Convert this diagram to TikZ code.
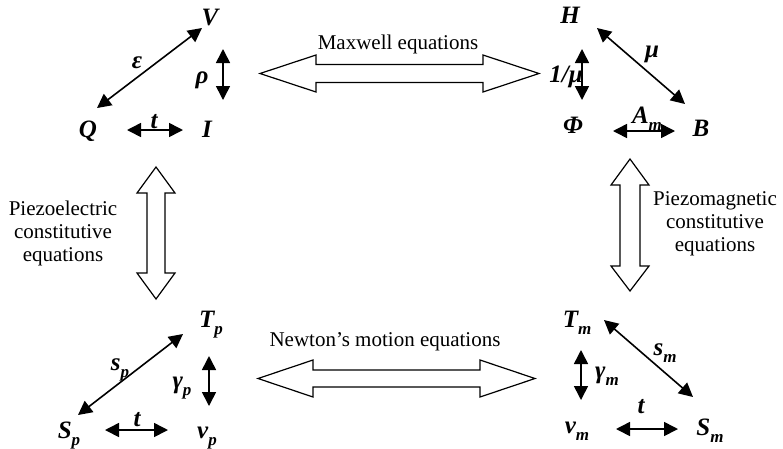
\documentclass[tikz,border=0pt]{standalone}
\usepackage{fontspec}
\setmainfont{Liberation Serif}
\usetikzlibrary{arrows.meta}
\newcommand{\lsub}[1]{\raisebox{-0.3em}{\fontsize{17}{18}\selectfont #1}}
\tikzset{
  var/.style={font=\fontsize{25}{27}\selectfont\bfseries\itshape, anchor=base, inner sep=0pt},
  lbl/.style={font=\fontsize{21}{24}\selectfont, anchor=base, inner sep=0pt, align=center},
  dar/.style={line width=1.6pt, {Triangle[length=14pt,width=14pt]}-{Triangle[length=14pt,width=14pt]}},
  blk/.style={line width=1.2pt, fill=white, line join=miter}
}
\begin{document}
\begin{tikzpicture}[x=1pt,y=-1pt]
\useasboundingbox (0,0) rectangle (783,448);
% ---------- top-left group
\node[var] (V) at (210,25) {V};
\node[var] (Q) at (88,137) {Q};
\node[var] (I) at (207,137) {I};
\node[var] (eps) at (137,68) {ε};
\node[var] (rho) at (202,83) {ρ};
\node[var] (t1) at (154,128) {t};
\coordinate (a1) at (97,108); \coordinate (a2) at (202,28);
\coordinate (a3) at (223,49);  \coordinate (a4) at (223,100);
\coordinate (a5) at (127,130); \coordinate (a6) at (183,130);
\draw[dar] (a1) -- (a2);
\draw[dar] (a3) -- (a4);
\draw[dar] (a5) -- (a6);
% ---------- top-right group
\node[var] (H) at (570,23) {H};
\node[var] (Phi) at (573,133) {Φ};
\node[var] (B) at (701,136) {B};
\node[var] (mu) at (652,57) {μ};
\node[var] (imu) at (566,82) {1/μ};
\node[var] (Am) at (647,123) {A\lsub{m}};
\coordinate (b1) at (582,49);  \coordinate (b2) at (582,100);
\coordinate (b3) at (597,28);  \coordinate (b4) at (685,104);
\coordinate (b5) at (613,131); \coordinate (b6) at (675,131);
\draw[dar] (b1) -- (b2);
\draw[dar] (b3) -- (b4);
\draw[dar] (b5) -- (b6);
% ---------- bottom-left group
\node[var] (Tp) at (211,327) {T\lsub{p}};
\node[var] (Sp) at (69,438) {S\lsub{p}};
\node[var] (vp) at (207,438) {v\lsub{p}};
\node[var] (sp) at (120,370) {s\lsub{p}};
\node[var] (gp) at (182,388) {γ\lsub{p}};
\node[var] (t3) at (137,426) {t};
\coordinate (c1) at (78,415);  \coordinate (c2) at (183,334);
\coordinate (c3) at (209,356); \coordinate (c4) at (209,406);
\coordinate (c5) at (105,430); \coordinate (c6) at (168,430);
\draw[dar] (c1) -- (c2);
\draw[dar] (c3) -- (c4);
\draw[dar] (c5) -- (c6);
% ---------- bottom-right group
\node[var] (Tm) at (577,327) {T\lsub{m}};
\node[var] (vm) at (577,433) {v\lsub{m}};
\node[var] (Sm) at (710,435) {S\lsub{m}};
\node[var] (sm) at (665,355) {s\lsub{m}};
\node[var] (gm) at (607,378) {γ\lsub{m}};
\node[var] (t4) at (641,413) {t};
\coordinate (d1) at (604,320); \coordinate (d2) at (693,397);
\coordinate (d3) at (581,350); \coordinate (d4) at (581,400);
\coordinate (d5) at (616,429); \coordinate (d6) at (678,429);
\draw[dar] (d1) -- (d2);
\draw[dar] (d3) -- (d4);
\draw[dar] (d5) -- (d6);
% ---------- block arrows
\draw[blk] (260,73.5) -- (316,55) -- (316,64.5) -- (483,64.5) -- (483,55) -- (539,73.5)
  -- (483,92) -- (483,82.5) -- (316,82.5) -- (316,92) -- cycle;
\draw[blk] (258,378.5) -- (313,360) -- (313,370) -- (480,370) -- (480,360) -- (535,378.5)
  -- (480,397) -- (480,387) -- (313,387) -- (313,397) -- cycle;
\draw[blk] (156,167) -- (175,193) -- (165,193) -- (165,273) -- (175,273) -- (156,299)
  -- (137,273) -- (147,273) -- (147,193) -- (137,193) -- cycle;
\draw[blk] (630,159) -- (649,185) -- (640,185) -- (640,266) -- (649,266) -- (630,291)
  -- (611,266) -- (620,266) -- (620,185) -- (611,185) -- cycle;
% ---------- labels
\node[lbl] (mx) at (398,49) {Maxwell equations};
\node[lbl] (nw) at (385,346) {Newton’s motion equations};
\node[lbl] (pe1) at (63,215) {Piezoelectric};
\node[lbl] (pe2) at (63,238) {constitutive};
\node[lbl] (pe3) at (63,261) {equations};
\node[lbl] (pm1) at (715,205) {Piezomagnetic};
\node[lbl] (pm2) at (715,228) {constitutive};
\node[lbl] (pm3) at (715,251) {equations};
\end{tikzpicture}
\end{document}
